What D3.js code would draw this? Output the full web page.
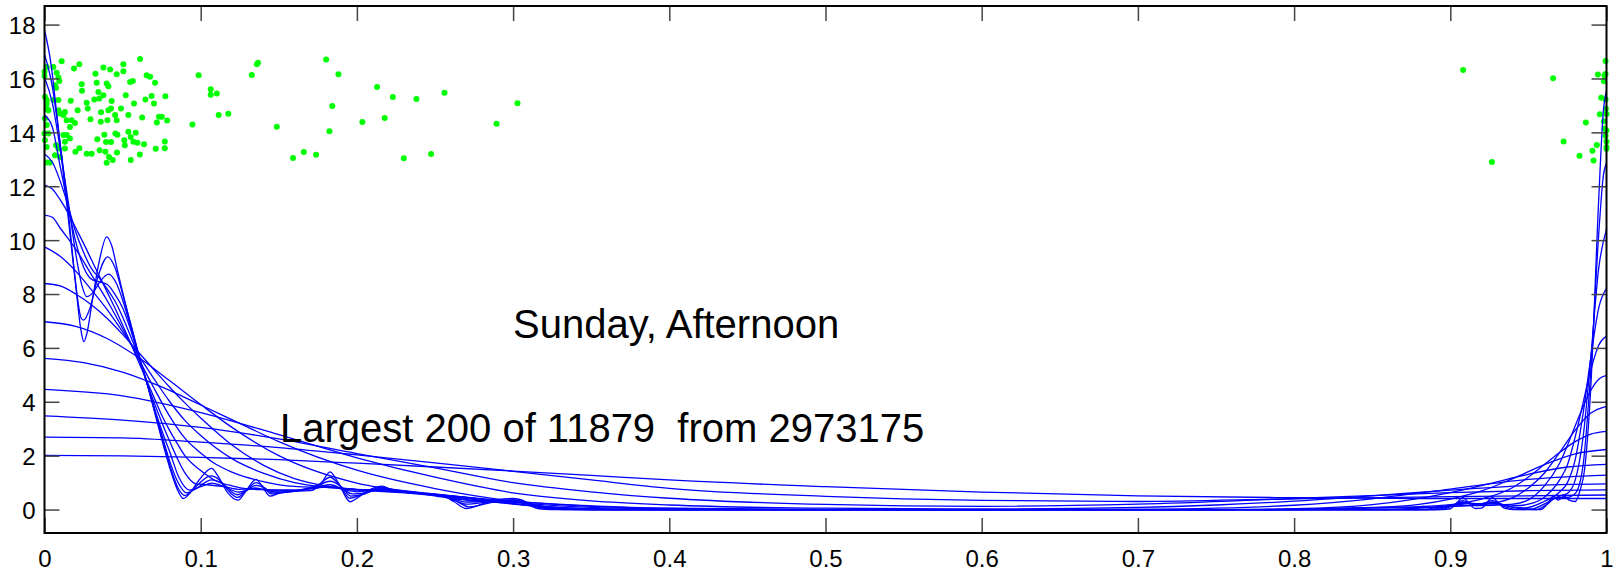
<!DOCTYPE html>
<html><head><meta charset="utf-8">
<script src="https://cdn.jsdelivr.net/npm/d3@7"></script>
<style>body{margin:0;background:#fff;}svg{display:block;}</style>
</head><body>
<svg id="chart" width="1617" height="574"></svg>
<script>
// ---------------- data ----------------
const xTicks = [0,0.1,0.2,0.3,0.4,0.5,0.6,0.7,0.8,0.9,1];
const xTickLabels = ["0","0.1","0.2","0.3","0.4","0.5","0.6","0.7","0.8","0.9","1"];
const yTicks = [0,2,4,6,8,10,12,14,16,18];
const titleText = "Sunday, Afternoon";
const subtitleText = "Largest 200 of 11879  from 2973175";

const pointsLeft = [
[0.000,16.25],[0.000,16.09],[0.0014,16.43],[0.0057,16.43],[0.0078,16.21],[0.0089,16.04],[0.0095,15.91],[0.0067,15.75],[0.0074,15.66],[0.0003,15.32],
[0.0014,15.20],[0.0014,15.07],[0.0057,15.20],[0.0089,15.20],[0.0014,14.89],[0.0025,14.82],[0.0089,14.82],[0.0099,14.70],[0.0003,14.51],[0.0014,14.27],
[0.000,13.96],[0.0025,13.96],[0.0003,13.71],[0.0014,13.46],[0.0074,13.52],[0.0089,13.40],[0.0067,13.15],[0.0099,13.09],[0.0014,12.88],[0.0035,12.88],
[0.0110,16.64],[0.0189,16.37],[0.0223,16.53],[0.0377,16.41],[0.0420,16.33],[0.0505,16.53],[0.0612,16.72],[0.0505,16.27],[0.0326,16.18],[0.0462,16.16],
[0.0654,16.12],[0.0676,16.06],[0.0708,15.84],[0.0548,15.87],[0.0565,15.91],[0.0398,15.81],[0.0409,15.71],[0.0238,15.79],[0.0240,15.54],[0.0334,15.84],
[0.0345,15.50],[0.0377,15.38],[0.0319,15.22],[0.0351,15.26],[0.0430,15.16],[0.0520,15.38],[0.0573,15.07],[0.0646,15.22],[0.0686,15.35],[0.0701,15.07],
[0.0774,15.34],[0.0270,15.10],[0.0277,14.89],[0.0212,14.82],[0.0168,15.17],[0.0426,14.89],[0.0490,14.89],[0.0362,14.75],[0.0452,14.64],[0.0537,14.64],
[0.0294,14.49],[0.0360,14.39],[0.0403,14.45],[0.0462,14.45],[0.0625,14.55],[0.0719,14.37],[0.0733,14.58],[0.0785,14.44],[0.0131,14.76],[0.0142,14.45],
[0.0174,14.45],[0.0195,14.35],[0.0163,14.20],[0.0121,13.90],[0.0142,13.90],[0.0163,13.77],[0.0338,13.74],[0.0383,13.91],[0.0394,13.64],[0.0426,13.64],
[0.0454,13.96],[0.0467,13.91],[0.0537,14.02],[0.0584,13.99],[0.0511,13.71],[0.0514,13.52],[0.0569,13.65],[0.0595,13.61],[0.0637,13.56],[0.0770,13.66],
[0.0770,13.41],[0.0712,13.39],[0.0270,13.21],[0.0302,13.21],[0.0353,13.34],[0.0390,13.28],[0.0464,13.25],[0.0610,13.18],[0.0223,13.41],[0.0198,13.28],
[0.0131,13.40],[0.0413,13.09],[0.0398,12.87],[0.0437,12.97],[0.0552,12.97],[0.0552,13.83],[0.0751,14.58],[0.0409,14.82],[0.0121,14.64],[0.0131,13.65]
];
const pointsMid = [
[0.0947,14.29],[0.0987,16.12],[0.1064,15.60],[0.1064,15.40],[0.1103,15.44],[0.1115,14.64],[0.1177,14.69],[0.1327,16.13],[0.1359,16.53],[0.1367,16.58],
[0.1487,14.21],[0.1591,13.05],[0.1660,13.27],[0.1739,13.17],[0.1803,16.70],[0.1882,16.16],[0.1843,14.98],[0.1824,14.04],[0.2035,14.38],[0.2129,15.68],
[0.2178,14.53],[0.2230,15.31],[0.2300,13.04],[0.2381,15.24],[0.2475,13.20],[0.2561,15.47],[0.2894,14.32],[0.3028,15.08]
];
const pointsRight = [
[0.9082,16.31],[0.9266,12.90],[0.9658,16.01],[0.9725,13.66],[0.9868,14.37],[0.9827,13.13],[0.9910,13.32],[0.9917,12.96],[0.9938,13.53],[0.9945,16.15],
[0.9957,14.67],[0.9966,15.28],[0.9983,15.90],[0.9987,16.11],[0.9994,16.65],[0.9994,15.22],[0.9996,14.88],[1.0,14.68],[0.9983,14.41],[0.9987,14.14],
[0.9994,13.87],[1.0,13.66],[1.0,13.46],[1.0,13.39],[0.9994,16.17],[1.0,14.07]
];

const curve01 = [[0,17.8],[0.004,16.6],[0.008,14.6],[0.012,12.5],[0.016,10.4],[0.02,8.3],[0.0235,6.6],[0.0252,6.23],[0.027,6.5],[0.031,7.9],[0.035,9.2],[0.0398,10.12],[0.043,9.8],[0.047,8.8],[0.052,7.6],[0.057,6.5],[0.061,5.6],[0.066,4.6],[0.071,3.5],[0.076,2.4],[0.081,1.4],[0.085,0.75],[0.0889,0.41],[0.093,0.6],[0.099,1.1],[0.107,1.53],[0.111,1.25],[0.117,0.65],[0.124,0.35],[0.1285,0.65],[0.1355,1.12],[0.1395,0.85],[0.1444,0.5],[0.15,0.6],[0.157,0.68],[0.17,0.7],[0.177,0.95],[0.1828,1.4],[0.188,1.0],[0.1957,0.29],[0.2,0.42],[0.207,0.7],[0.2165,0.87],[0.223,0.7],[0.232,0.62],[0.245,0.55],[0.255,0.5],[0.262,0.3],[0.27,0.04],[0.28,0.2],[0.29,0.37],[0.3,0.41],[0.306,0.35],[0.312,0.12],[0.318,0.02],[0.33,0],[0.895,0],[0.9,0.03],[0.905,0.3],[0.908,0.45],[0.911,0.3],[0.916,0.04],[0.92,0.05],[0.924,0.3],[0.927,0.45],[0.93,0.3],[0.935,0.04],[0.94,0],[0.958,0],[0.962,0.2],[0.966,0.5],[0.969,0.35],[0.973,0.5],[0.976,0.35],[0.98,0.3],[0.983,0.7],[0.986,1.5],[0.99,4.6],[0.995,11.5],[0.998,14.8],[1.0,15.56]];
const curve02 = [[0,16.9],[0.005,15.7],[0.01,13.6],[0.015,11.2],[0.019,8.9],[0.0235,7.1],[0.025,7.03],[0.029,7.45],[0.034,8.6],[0.0405,9.38],[0.045,9.0],[0.05,8.0],[0.055,6.9],[0.061,5.6],[0.066,4.6],[0.071,3.55],[0.076,2.5],[0.081,1.5],[0.0855,0.8],[0.09,0.52],[0.095,0.75],[0.1065,1.25],[0.112,1.1],[0.117,0.75],[0.1235,0.45],[0.129,0.7],[0.1355,1.0],[0.14,0.85],[0.145,0.58],[0.152,0.64],[0.165,0.7],[0.176,0.95],[0.1828,1.2],[0.189,0.9],[0.1955,0.42],[0.2,0.48],[0.208,0.7],[0.2165,0.82],[0.225,0.7],[0.24,0.6],[0.255,0.5],[0.263,0.33],[0.272,0.1],[0.285,0.25],[0.3,0.37],[0.307,0.3],[0.315,0.1],[0.325,0.02],[0.34,0],[0.893,0],[0.9,0.1],[0.908,0.33],[0.917,0.15],[0.927,0.33],[0.935,0.1],[0.942,0.01],[0.955,0],[0.962,0.2],[0.968,0.45],[0.974,0.45],[0.98,0.6],[0.985,1.65],[0.99,5.2],[0.995,10.2],[0.998,12.4],[1.0,12.85]];
const curve03 = [[0,16.05],[0.005,15.1],[0.01,13.4],[0.015,11.5],[0.02,9.5],[0.024,8.3],[0.027,7.9],[0.031,8.05],[0.036,8.5],[0.041,8.74],[0.046,8.4],[0.051,7.6],[0.056,6.6],[0.061,5.6],[0.066,4.65],[0.071,3.6],[0.076,2.6],[0.081,1.65],[0.086,0.95],[0.091,0.62],[0.097,0.78],[0.107,1.1],[0.113,1.0],[0.1235,0.55],[0.129,0.7],[0.1355,0.9],[0.141,0.8],[0.146,0.62],[0.16,0.68],[0.175,0.9],[0.1828,1.05],[0.19,0.85],[0.196,0.5],[0.203,0.55],[0.215,0.78],[0.225,0.7],[0.245,0.57],[0.258,0.47],[0.27,0.2],[0.285,0.28],[0.3,0.34],[0.31,0.22],[0.322,0.05],[0.34,0],[0.89,0],[0.9,0.12],[0.908,0.28],[0.917,0.2],[0.927,0.28],[0.937,0.12],[0.945,0.03],[0.952,0.02],[0.96,0.2],[0.97,0.5],[0.975,0.6],[0.98,1.1],[0.985,2.68],[0.99,5.69],[0.995,8.95],[1.0,10.41]];
const curve04 = [[0,14.64],[0.005,14.2],[0.01,12.75],[0.015,11.3],[0.02,9.94],[0.025,9.0],[0.03,8.55],[0.035,8.45],[0.04,8.36],[0.045,8.0],[0.05,7.49],[0.055,6.7],[0.06,5.75],[0.065,4.8],[0.07,3.83],[0.075,2.95],[0.08,2.17],[0.086,1.2],[0.093,0.72],[0.1,0.85],[0.107,0.98],[0.115,0.85],[0.124,0.65],[0.135,0.8],[0.145,0.68],[0.16,0.7],[0.175,0.85],[0.183,0.92],[0.191,0.75],[0.197,0.58],[0.205,0.62],[0.216,0.75],[0.23,0.66],[0.245,0.57],[0.258,0.48],[0.27,0.28],[0.285,0.3],[0.3,0.3],[0.315,0.16],[0.33,0.03],[0.35,0],[0.885,0],[0.9,0.14],[0.91,0.24],[0.918,0.22],[0.927,0.24],[0.94,0.1],[0.948,0.06],[0.96,0.3],[0.97,0.65],[0.975,1.0],[0.98,1.86],[0.985,3.56],[0.99,5.66],[0.995,7.48],[1.0,8.21]];
const curve05 = [[0,13.2],[0.005,12.9],[0.01,12.2],[0.015,11.3],[0.02,10.3],[0.025,9.55],[0.03,8.95],[0.035,8.6],[0.04,8.2],[0.045,7.75],[0.05,7.15],[0.055,6.45],[0.061,5.55],[0.065,4.8],[0.07,4.0],[0.075,3.25],[0.08,2.55],[0.085,1.9],[0.09,1.35],[0.097,0.95],[0.104,0.92],[0.115,0.85],[0.125,0.75],[0.135,0.78],[0.145,0.72],[0.16,0.72],[0.175,0.8],[0.183,0.85],[0.193,0.72],[0.2,0.66],[0.215,0.72],[0.23,0.65],[0.245,0.57],[0.26,0.47],[0.272,0.35],[0.29,0.3],[0.3,0.28],[0.32,0.12],[0.34,0.02],[0.36,0],[0.88,0],[0.9,0.15],[0.915,0.22],[0.93,0.2],[0.945,0.15],[0.95,0.2],[0.96,0.45],[0.97,1.1],[0.975,1.66],[0.98,2.71],[0.985,3.96],[0.99,5.19],[0.995,6.1],[1.0,6.44]];
const curve06 = [[0,12.04],[0.005,11.9],[0.01,11.5],[0.015,11.02],[0.02,10.45],[0.025,9.88],[0.03,9.28],[0.035,8.68],[0.04,8.09],[0.045,7.49],[0.05,6.85],[0.055,6.2],[0.06,5.51],[0.065,4.85],[0.07,4.18],[0.075,3.51],[0.08,2.95],[0.085,2.45],[0.09,1.99],[0.1,1.45],[0.11,1.06],[0.12,0.88],[0.13,0.77],[0.14,0.74],[0.16,0.72],[0.18,0.85],[0.2,0.72],[0.22,0.75],[0.24,0.6],[0.26,0.42],[0.28,0.3],[0.3,0.22],[0.32,0.08],[0.34,0.01],[0.36,0],[0.85,0],[0.87,0.02],[0.9,0.13],[0.93,0.17],[0.94,0.2],[0.95,0.36],[0.96,0.86],[0.97,1.72],[0.98,3.11],[0.985,3.82],[0.99,4.43],[0.995,4.84],[1.0,4.98]];
const curve07 = [[0,10.93],[0.005,10.85],[0.01,10.45],[0.02,9.67],[0.03,8.72],[0.04,7.77],[0.05,6.72],[0.06,5.62],[0.07,4.52],[0.08,3.48],[0.09,2.64],[0.1,2.1],[0.11,1.67],[0.12,1.39],[0.14,1.04],[0.16,0.86],[0.18,0.82],[0.2,0.75],[0.22,0.72],[0.24,0.62],[0.26,0.48],[0.28,0.34],[0.3,0.2],[0.32,0.1],[0.35,0.02],[0.38,0],[0.8,0],[0.85,0.05],[0.9,0.12],[0.92,0.18],[0.94,0.44],[0.95,0.8],[0.96,1.34],[0.97,2.12],[0.98,2.95],[0.99,3.58],[1.0,3.83]];
const curve08 = [[0,9.75],[0.01,9.4],[0.02,8.85],[0.03,8.16],[0.04,7.43],[0.05,6.6],[0.06,5.74],[0.07,4.86],[0.08,4.02],[0.09,3.3],[0.1,2.75],[0.12,1.89],[0.14,1.35],[0.16,1.0],[0.18,0.83],[0.2,0.74],[0.22,0.68],[0.25,0.56],[0.28,0.38],[0.3,0.22],[0.33,0.08],[0.36,0.02],[0.4,0],[0.78,0],[0.85,0.08],[0.88,0.11],[0.9,0.18],[0.92,0.39],[0.94,0.82],[0.95,1.21],[0.96,1.66],[0.97,2.12],[0.98,2.52],[0.99,2.8],[1.0,2.9]];
const curve09 = [[0,8.39],[0.01,8.3],[0.02,8.0],[0.03,7.6],[0.04,7.1],[0.05,6.5],[0.06,5.85],[0.07,5.2],[0.08,4.55],[0.09,3.95],[0.1,3.4],[0.12,2.4],[0.14,1.65],[0.16,1.15],[0.18,0.88],[0.2,0.74],[0.25,0.56],[0.3,0.27],[0.35,0.08],[0.4,0.02],[0.45,0],[0.78,0],[0.8,0.01],[0.85,0.07],[0.88,0.19],[0.9,0.39],[0.92,0.69],[0.94,1.15],[0.96,1.66],[0.98,2.07],[1.0,2.23]];
const curve10 = [[0,6.97],[0.02,6.8],[0.04,6.35],[0.06,5.65],[0.08,4.79],[0.1,3.9],[0.12,3.05],[0.15,2.0],[0.2,0.98],[0.25,0.58],[0.3,0.3],[0.35,0.12],[0.4,0.04],[0.45,0.01],[0.5,0],[0.75,0],[0.8,0.03],[0.85,0.18],[0.9,0.63],[0.925,0.96],[0.95,1.31],[0.975,1.58],[1.0,1.68]];
const curve11 = [[0,5.61],[0.025,5.45],[0.05,5.1],[0.075,4.55],[0.1,3.88],[0.125,3.2],[0.15,2.52],[0.2,1.46],[0.25,0.78],[0.3,0.32],[0.35,0.14],[0.4,0.05],[0.5,0.01],[0.6,0],[0.7,0.012],[0.75,0.05],[0.8,0.16],[0.85,0.4],[0.9,0.76],[0.95,1.12],[1.0,1.28]];
const curve12 = [[0,4.46],[0.05,4.22],[0.1,3.6],[0.15,2.78],[0.2,1.92],[0.25,1.2],[0.3,0.62],[0.35,0.32],[0.4,0.17],[0.5,0.05],[0.6,0.02],[0.7,0.08],[0.75,0.17],[0.8,0.31],[0.85,0.51],[0.9,0.72],[0.95,0.89],[1.0,0.95]];
const curve13 = [[0,3.48],[0.05,3.32],[0.1,3.05],[0.15,2.62],[0.2,2.08],[0.25,1.55],[0.3,1.0],[0.35,0.66],[0.4,0.42],[0.5,0.19],[0.6,0.12],[0.7,0.2],[0.8,0.41],[0.9,0.63],[0.95,0.7],[1.0,0.73]];
const curve14 = [[0,2.69],[0.05,2.66],[0.1,2.5],[0.15,2.3],[0.2,2.03],[0.25,1.73],[0.3,1.42],[0.35,1.1],[0.4,0.79],[0.5,0.49],[0.6,0.34],[0.7,0.30],[0.8,0.40],[0.9,0.48],[1.0,0.54]];
const curve15 = [[0,2.01],[0.05,1.99],[0.1,1.94],[0.15,1.85],[0.2,1.72],[0.25,1.58],[0.3,1.43],[0.35,1.27],[0.4,1.1],[0.5,0.85],[0.6,0.65],[0.7,0.51],[0.8,0.44],[0.9,0.41],[1.0,0.41]];

const curves = [curve01,curve02,curve03,curve04,curve05,curve06,curve07,curve08,curve09,curve10,curve11,curve12,curve13,curve14,curve15];
const allPoints = pointsLeft.concat(pointsMid, pointsRight);

// ---------------- drawing ----------------
const plot = {left:44.5, right:1606.5, top:6, bottom:533};
const svg = d3.select("#chart");
const font = "'Liberation Sans', Arial, Helvetica, sans-serif";

const x = d3.scaleLinear().domain([0,1]).range([plot.left, plot.right]);
const y = d3.scaleLinear().domain([-0.87,18.69]).range([plot.bottom, plot.top]);

svg.append("defs").append("clipPath").attr("id","clip")
  .append("rect").attr("x",plot.left).attr("y",plot.top)
  .attr("width",plot.right-plot.left).attr("height",plot.bottom-plot.top);

// points
svg.append("g").selectAll("circle").data(allPoints).join("circle")
  .attr("cx",d=>x(d[0])).attr("cy",d=>y(d[1])).attr("r",3)
  .attr("fill","#00ff00");

// curves
const line = d3.line().x(d=>x(d[0])).y(d=>y(d[1])).curve(d3.curveMonotoneX);
svg.append("g").attr("clip-path","url(#clip)").selectAll("path").data(curves).join("path")
  .attr("d",line).attr("fill","none").attr("stroke","#0000ff").attr("stroke-width",1.3);

// annotations
svg.append("text").attr("x",513).attr("y",338).attr("font-family",font).attr("font-size",40)
  .attr("fill","#000").style("white-space","pre").text(titleText);
svg.append("text").attr("x",280).attr("y",442).attr("font-family",font).attr("font-size",40)
  .attr("fill","#000").style("white-space","pre").text(subtitleText);

// axes
function styleAxis(g){
  g.select(".domain").remove();
  g.selectAll(".tick line").attr("stroke","#444").attr("stroke-width",1.5);
  g.selectAll(".tick text").attr("font-family",font).attr("font-size",24).attr("fill","#000");
}
svg.append("g").attr("transform",`translate(0,${plot.bottom})`)
  .call(d3.axisBottom(x).tickValues(xTicks).tickFormat((d,i)=>xTickLabels[i]).tickSize(-15).tickPadding(17))
  .call(styleAxis);
svg.append("g").attr("transform",`translate(0,${plot.top})`)
  .call(d3.axisTop(x).tickValues(xTicks).tickFormat("").tickSize(-15))
  .call(styleAxis);
svg.append("g").attr("transform",`translate(${plot.left},0)`)
  .call(d3.axisLeft(y).tickValues(yTicks).tickFormat(d3.format("d")).tickSize(-15).tickPadding(9))
  .call(styleAxis)
  .call(g=>g.selectAll(".tick text").attr("dy","0.37em"));
svg.append("g").attr("transform",`translate(${plot.right},0)`)
  .call(d3.axisRight(y).tickValues(yTicks).tickFormat("").tickSize(-15))
  .call(styleAxis);

// frame
svg.append("rect").attr("x",plot.left).attr("y",plot.top)
  .attr("width",plot.right-plot.left).attr("height",plot.bottom-plot.top)
  .attr("fill","none").attr("stroke","#000").attr("stroke-width",2);
</script>
</body></html>
